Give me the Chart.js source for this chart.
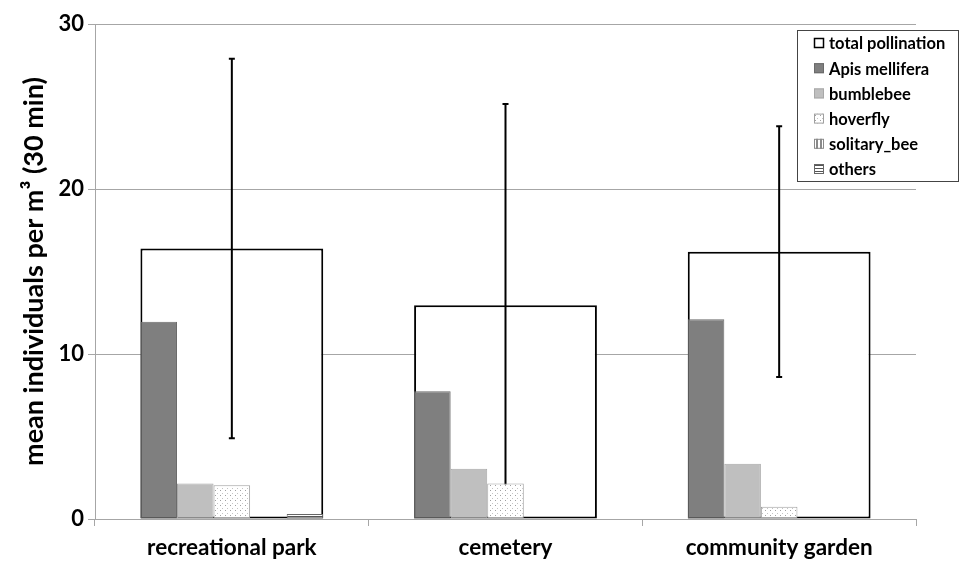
<!DOCTYPE html>
<html>
<head>
<meta charset="utf-8">
<script src="https://cdn.jsdelivr.net/npm/chart.js@4.4.1/dist/chart.umd.min.js"></script>
<style>
  html, body { margin: 0; padding: 0; background: #fff; }
  #wrap { width: 963px; height: 563px; }
</style>
</head>
<body>
<div id="wrap"><canvas id="grafico" width="963" height="563"></canvas></div>
<script>
const categorias = ['recreational park', 'cemetery', 'community garden'];
const total = [16.4, 12.95, 16.2];
const totalErro = [11.5, 12.2, 7.6];
const apis = [11.95, 7.75, 12.1];
const bumblebee = [2.15, 3.05, 3.35];
const hoverfly = [2.05, 2.15, 0.75];
const solitaria = [0, 0, 0];
const outros = [0.3, 0, 0];
const yTicks = [0, 10, 20, 30];

const fonte = 'Lato, "Open Sans", sans-serif';

function padrao(w, h, desenha) {
  const c = document.createElement('canvas');
  c.width = w; c.height = h;
  const g = c.getContext('2d');
  g.fillStyle = '#fff';
  g.fillRect(0, 0, w, h);
  desenha(g);
  return document.getElementById('grafico').getContext('2d').createPattern(c, 'repeat');
}

const pontos = padrao(5, 5, g => {
  g.fillStyle = '#a0a0a0';
  g.fillRect(0, 0, 1, 1);
  g.fillStyle = '#c4c4c4';
  g.fillRect(2, 3, 1, 1);
});
const verticais = padrao(4, 4, g => {
  g.fillStyle = '#8a8a8a';
  g.fillRect(0, 0, 2, 4);
});
const horizontais = padrao(4, 3, g => {
  g.fillStyle = '#555';
  g.fillRect(0, 0, 4, 1);
});

const barrasErro = {
  id: 'barrasErro',
  afterDatasetDraw(chart, args) {
    if (args.index !== 0) return;
    const ctx = chart.ctx;
    const y = chart.scales.y;
    ctx.save();
    ctx.strokeStyle = '#000';
    ctx.lineWidth = 2;
    args.meta.data.forEach((bar, i) => {
      const alto = y.getPixelForValue(total[i] + totalErro[i]);
      const baixo = y.getPixelForValue(Math.max(0, total[i] - totalErro[i]));
      ctx.beginPath();
      ctx.moveTo(bar.x, alto);
      ctx.lineTo(bar.x, baixo);
      ctx.moveTo(bar.x - 3, alto);
      ctx.lineTo(bar.x + 3, alto);
      ctx.moveTo(bar.x - 3, baixo);
      ctx.lineTo(bar.x + 3, baixo);
      ctx.stroke();
    });
    ctx.restore();
  }
};

const legenda = {
  id: 'legenda',
  afterDraw(chart) {
    const ctx = chart.ctx;
    const x0 = 797, y0 = 30, w = 161, h = 151;
    ctx.save();
    ctx.fillStyle = '#fff';
    ctx.fillRect(x0, y0, w, h);
    ctx.strokeStyle = '#444';
    ctx.lineWidth = 1;
    ctx.strokeRect(x0 + 0.5, y0 + 0.5, w, h);
    ctx.font = 'bold 16.5px ' + fonte;
    ctx.textBaseline = 'middle';
    chart.data.datasets.forEach((ds, i) => {
      const cy = 43 + i * 25.2;
      ctx.fillStyle = ds.backgroundColor;
      ctx.fillRect(814, cy - 5, 10, 10);
      ctx.strokeStyle = i === 0 ? '#000' : ds.borderColor;
      ctx.lineWidth = i === 0 ? 1.5 : 1;
      ctx.strokeRect(814.5, cy - 4.5, 9, 9);
      ctx.fillStyle = '#000';
      ctx.fillText(ds.label, 829, cy + 1);
    });
    ctx.restore();
  }
};

const ctx = document.getElementById('grafico').getContext('2d');

new Chart(ctx, {
  type: 'bar',
  data: {
    labels: categorias,
    datasets: [
      {
        label: 'total pollination',
        data: total,
        backgroundColor: '#fff',
        borderColor: '#000',
        borderWidth: 2,
        borderSkipped: false,
        grouped: false,
        order: 1,
        categoryPercentage: 0.668,
        barPercentage: 1
      },
      { label: 'Apis mellifera', data: apis, backgroundColor: '#7f7f7f', borderColor: '#6a6a6a' },
      { label: 'bumblebee', data: bumblebee, backgroundColor: '#bfbfbf', borderColor: '#a8a8a8' },
      { label: 'hoverfly', data: hoverfly, backgroundColor: pontos, borderColor: '#a0a0a0' },
      { label: 'solitary_bee', data: solitaria, backgroundColor: verticais, borderColor: '#8a8a8a' },
      { label: 'others', data: outros, backgroundColor: horizontais, borderColor: '#666' }
    ].map((d, i) => i === 0 ? d : Object.assign({
      borderWidth: 1,
      borderSkipped: false,
      order: 0,
      categoryPercentage: 0.668,
      barPercentage: 1
    }, d))
  },
  options: {
    responsive: false,
    animation: false,
    layout: { padding: { top: 24, right: 47, left: 0, bottom: 0 } },
    plugins: {
      legend: { display: false },
      tooltip: { enabled: false }
    },
    scales: {
      x: {
        type: 'category',
        offset: true,
        afterFit: s => { s.height = 44; },
        grid: { display: true, drawOnChartArea: false, offset: true, tickLength: 7, color: '#a6a6a6' },
        border: { color: '#a6a6a6' },
        ticks: { color: '#000', font: { family: fonte, size: 22.5, weight: 'bold' }, padding: 8, maxRotation: 0 }
      },
      y: {
        min: 0,
        max: 30,
        afterFit: s => { s.width = 95; },
        afterBuildTicks: s => { s.ticks = yTicks.map(v => ({ value: v })); },
        grid: { color: '#a6a6a6', tickLength: 7 },
        border: { color: '#a6a6a6' },
        ticks: { color: '#000', font: { family: fonte, size: 22, weight: 'bold' }, padding: 4 },
        title: {
          display: true,
          text: 'mean individuals per m³ (30 min)',
          color: '#000',
          font: { family: fonte, size: 27, weight: 'bold' },
          padding: { top: 18, bottom: 0 }
        }
      }
    }
  },
  plugins: [barrasErro, legenda]
});
</script>
</body>
</html>
